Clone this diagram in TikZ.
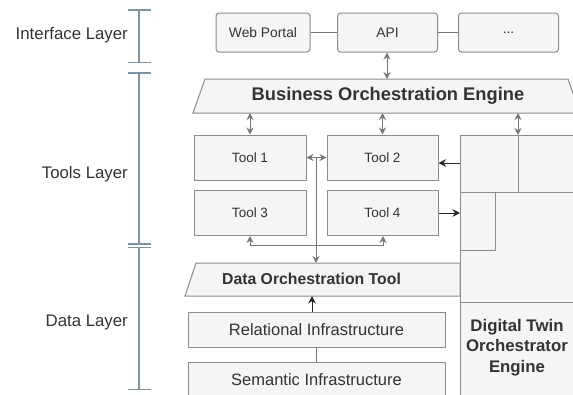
\documentclass[tikz,border=0pt]{standalone}
\usepackage{fontspec}
\setmainfont{Liberation Sans}
\usetikzlibrary{arrows.meta}
\definecolor{boxfill}{HTML}{F5F5F5}
\definecolor{boxline}{HTML}{8C8C8C}
\definecolor{txt}{HTML}{333333}
\definecolor{conncol}{HTML}{777777}
\definecolor{brk}{HTML}{7E92A8}
\begin{document}
\begin{tikzpicture}[x=1pt,y=-1pt,
  box/.style={draw=boxline, fill=boxfill, line width=1pt, inner sep=0pt, text=txt},
  topbox/.style={box, rounded corners=3pt, minimum width=100pt, minimum height=39pt, font=\fontsize{13.8}{16}\selectfont},
  toolbox/.style={box, minimum width=111pt, minimum height=45pt, font=\fontsize{13.5}{16}\selectfont},
  infrabox/.style={box, minimum width=257pt, minimum height=35pt, font=\fontsize{16.5}{20}\selectfont},
  gline/.style={draw=conncol, line width=1pt},
  garrow/.style={gline, -{Stealth[length=7pt,width=7pt]}},
  gdouble/.style={gline, {Stealth[length=7pt,width=7pt]}-{Stealth[length=7pt,width=7pt]}},
  barrow/.style={draw=black!85, line width=1pt, -{Stealth[length=7.5pt,width=7.5pt]}},
  bracket/.style={draw=brk, line width=1.3pt},
  layerlabel/.style={anchor=east, text=txt, inner sep=0pt, font=\fontsize{16.8}{20}\selectfont},
]
\useasboundingbox (0,0) rectangle (573,394);
\clip (0,0) rectangle (573,394);

% layer brackets
\coordinate (b0) at (139,10);
\coordinate (b1) at (139,62.5);
\coordinate (b2) at (139,73);
\coordinate (b3) at (139,244);
\coordinate (b4) at (139,247.5);
\coordinate (b5) at (139,389.5);
\draw[bracket] (b0) -- (b1) (b2) -- (b3) (b4) -- (b5);
\foreach \p in {b0,b1,b2,b3,b4,b5} \draw[bracket] ([xshift=-11.5pt]\p) -- ([xshift=11.5pt]\p);
\node[layerlabel] (lint) at (128,35) {Interface Layer};
\node[layerlabel] (ltool) at (128,174) {Tools Layer};
\node[layerlabel] (ldata) at (128,322) {Data Layer};

% interface layer
\node[topbox, minimum width=94pt] (web) at (263,32.5) {Web Portal};
\node[topbox] (api) at (387.5,32.5) {API};
\node[topbox] (dots) at (508.5,32.5) {...};
\draw[gline] (web) -- (api);
\draw[gline] (api) -- (dots);

% business orchestration engine
\filldraw[draw=boxline, fill=boxfill, line width=1pt] (205,79) -- (568,79) -- (580,113) -- (193,113) -- cycle;
\node[text=txt, font=\bfseries\fontsize{18.3}{22}\selectfont, inner sep=0pt] (boe) at (388,96) {Business Orchestration Engine};
\coordinate (boeT) at (387,79);
\coordinate (boeB) at (388,113);

% digital twin column
\node[box, minimum width=140pt, minimum height=285pt, anchor=north west] (dt) at (460,135) {};
\draw[draw=boxline, line width=1pt] (518,135) -- (518,192) (460,192) -- (600,192) (460,302) -- (600,302);
\draw[draw=boxline, line width=1pt] (460,192) rectangle (495,250);
\node[text=txt, font=\bfseries\fontsize{16.8}{20.5}\selectfont, align=center, inner sep=0pt] (dtlabel) at (517,347.5) {Digital Twin\\Orchestrator\\Engine};

% tools
\node[toolbox, minimum width=112pt] (t1) at (250,157.5) {Tool 1};
\node[toolbox] (t2) at (382.5,157.5) {Tool 2};
\node[toolbox, minimum width=112pt] (t3) at (250,213) {Tool 3};
\node[toolbox] (t4) at (382.5,213) {Tool 4};

% data orchestration tool
\filldraw[draw=boxline, fill=boxfill, line width=1pt] (196,263) -- (460,263) -- (460,296) -- (185,296) -- cycle;
\node[text=txt, font=\bfseries\fontsize{15.8}{19}\selectfont, inner sep=0pt] (dot) at (311.5,279) {Data Orchestration Tool};
\coordinate (dotT) at (316,263);
\coordinate (dotB) at (312,296);

% infrastructure
\node[infrabox] (rel) at (316.5,329.5) {Relational Infrastructure};
\node[infrabox] (sem) at (316.5,379.5) {Semantic Infrastructure};

% connectors
\draw[gdouble] (api.south -| boeT) -- (boeT);
\draw[gdouble] (boeB -| t1.north) -- (t1.north);
\draw[gdouble] (boeB -| t2.north) -- (t2.north);
\draw[gdouble] (boeB -| 518,0) -- (518,135);
\draw[gdouble] (t1.east) -- (t2.west);
\coordinate (vtop) at (316,157.5);
\draw[garrow] (vtop) -- (dotT);
\coordinate (brL) at (250,245.5);
\coordinate (brR) at (383,245.5);
\draw[gline] (brL) -- (brR);
\draw[garrow] (brL) -- (t3.south);
\draw[garrow] (brR) -- (brR |- t4.south);
\draw[barrow] (dt.west |- 0,163) -- (t2.east |- 0,163);
\draw[barrow] (t4.east) -- (t4.east -| dt.west);
\draw[barrow] (rel.north -| dotB) -- (dotB);
\draw[gline] (rel.south) -- (sem.north);
\end{tikzpicture}
\end{document}
